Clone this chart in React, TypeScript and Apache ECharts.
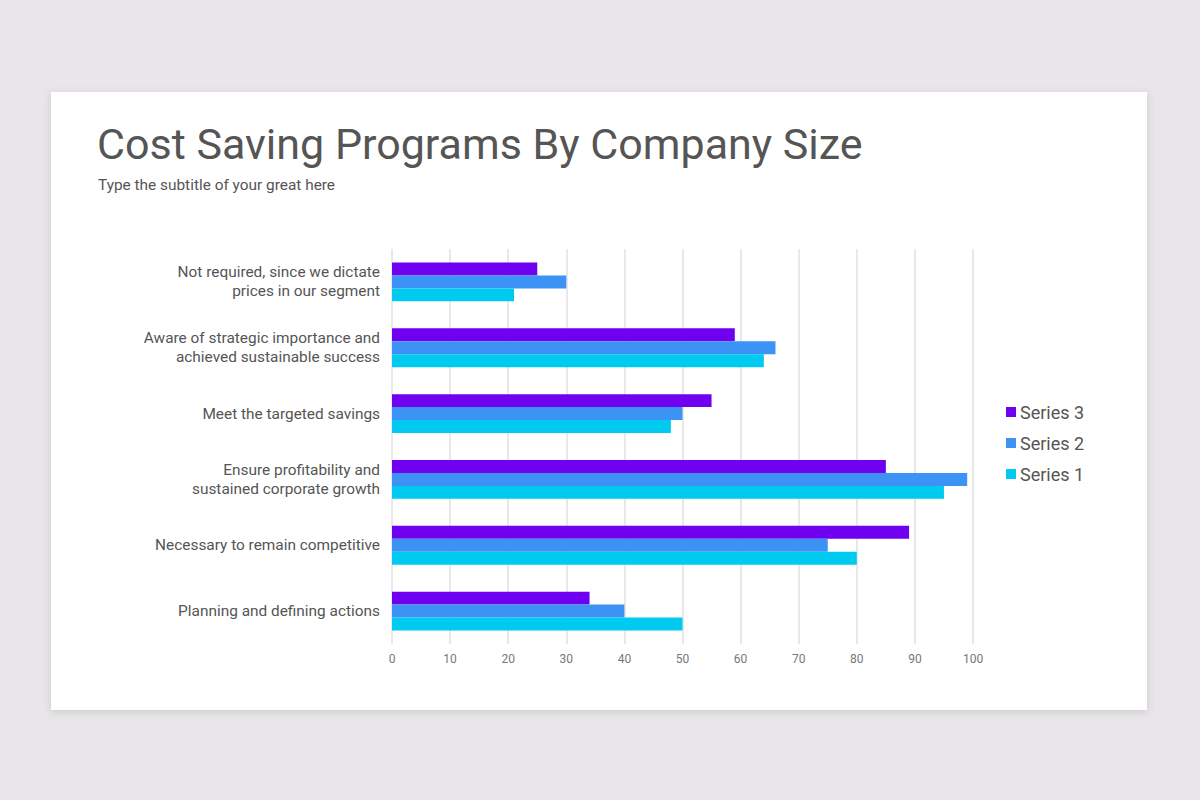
import React, { useEffect, useRef } from "react";
import * as echarts from "echarts";

const categories = [
  "Not required, since we dictate\nprices in our segment",
  "Aware of strategic importance and\nachieved sustainable success",
  "Meet the targeted savings",
  "Ensure profitability and\nsustained corporate growth",
  "Necessary to remain competitive",
  "Planning and defining actions",
];
const series3 = [25, 59, 55, 85, 89, 34];
const series2 = [30, 66, 50, 99, 75, 40];
const series1 = [21, 64, 48, 95, 80, 50];
const seriesNames = ["Series 3", "Series 2", "Series 1"];
const seriesColors = ["#6f00f0", "#3d93f5", "#00caf0"];
const xTicks = [0, 100, 10];

const FONT = "Roboto, 'Noto Sans', sans-serif";

export default function App() {
  const ref = useRef<HTMLDivElement>(null);
  useEffect(() => {
    if (!ref.current) return;
    const chart = echarts.init(ref.current, undefined, { renderer: "svg" });
    const data = [series3, series2, series1];
    chart.setOption({
      animation: false,
      backgroundColor: "#e8e6e8",
      textStyle: { fontFamily: FONT },
      graphic: [
        {
          type: "rect",
          z: -10,
          shape: { x: 51, y: 92, width: 1096, height: 618 },
          style: {
            fill: "#ffffff",
            shadowBlur: 8,
            shadowColor: "rgba(0,0,0,0.12)",
            shadowOffsetY: 2,
          },
        },
        {
          type: "text",
          x: 97,
          y: 122,
          style: {
            text: "Cost Saving Programs By Company Size",
            font: `400 43px ${FONT}`,
            fill: "#555555",
          },
        },
        {
          type: "text",
          x: 98,
          y: 177,
          style: {
            text: "Type the subtitle of your great here",
            font: `400 15.4px ${FONT}`,
            fill: "#555555",
          },
        },
      ],
      legend: {
        orient: "vertical",
        left: 1001,
        top: 398,
        itemWidth: 10,
        itemHeight: 10,
        itemGap: 13,
        icon: "rect",
        data: seriesNames,
        textStyle: { fontSize: 18, color: "#555555", fontFamily: FONT, padding: [0, 0, 0, -1] },
      },
      grid: { left: 392, right: 227, top: 249, bottom: 156, containLabel: false },
      xAxis: {
        type: "value",
        min: xTicks[0],
        max: xTicks[1],
        interval: xTicks[2],
        axisLine: { show: false },
        axisTick: { show: false },
        splitLine: { lineStyle: { color: "#e0e0e0", width: 1.5 } },
        axisLabel: { color: "#777777", fontSize: 12, margin: 9, fontFamily: FONT },
      },
      yAxis: {
        type: "category",
        inverse: true,
        data: categories,
        axisLine: { show: false },
        axisTick: { show: false },
        axisLabel: {
          color: "#555555",
          fontSize: 15.4,
          lineHeight: 19,
          margin: 12,
          align: "right",
          padding: [0, 0, 4, 0],
          fontFamily: FONT,
        },
      },
      series: data.map((d, i) => ({
        type: "bar",
        name: seriesNames[i],
        data: d,
        barGap: "0%",
        barCategoryGap: "41%",
        itemStyle: { color: seriesColors[i] },
      })),
    });
    return () => chart.dispose();
  }, []);
  return (
    <div
      ref={ref}
      style={{ position: "absolute", left: 0, top: 0, width: 1200, height: 800 }}
    />
  );
}
